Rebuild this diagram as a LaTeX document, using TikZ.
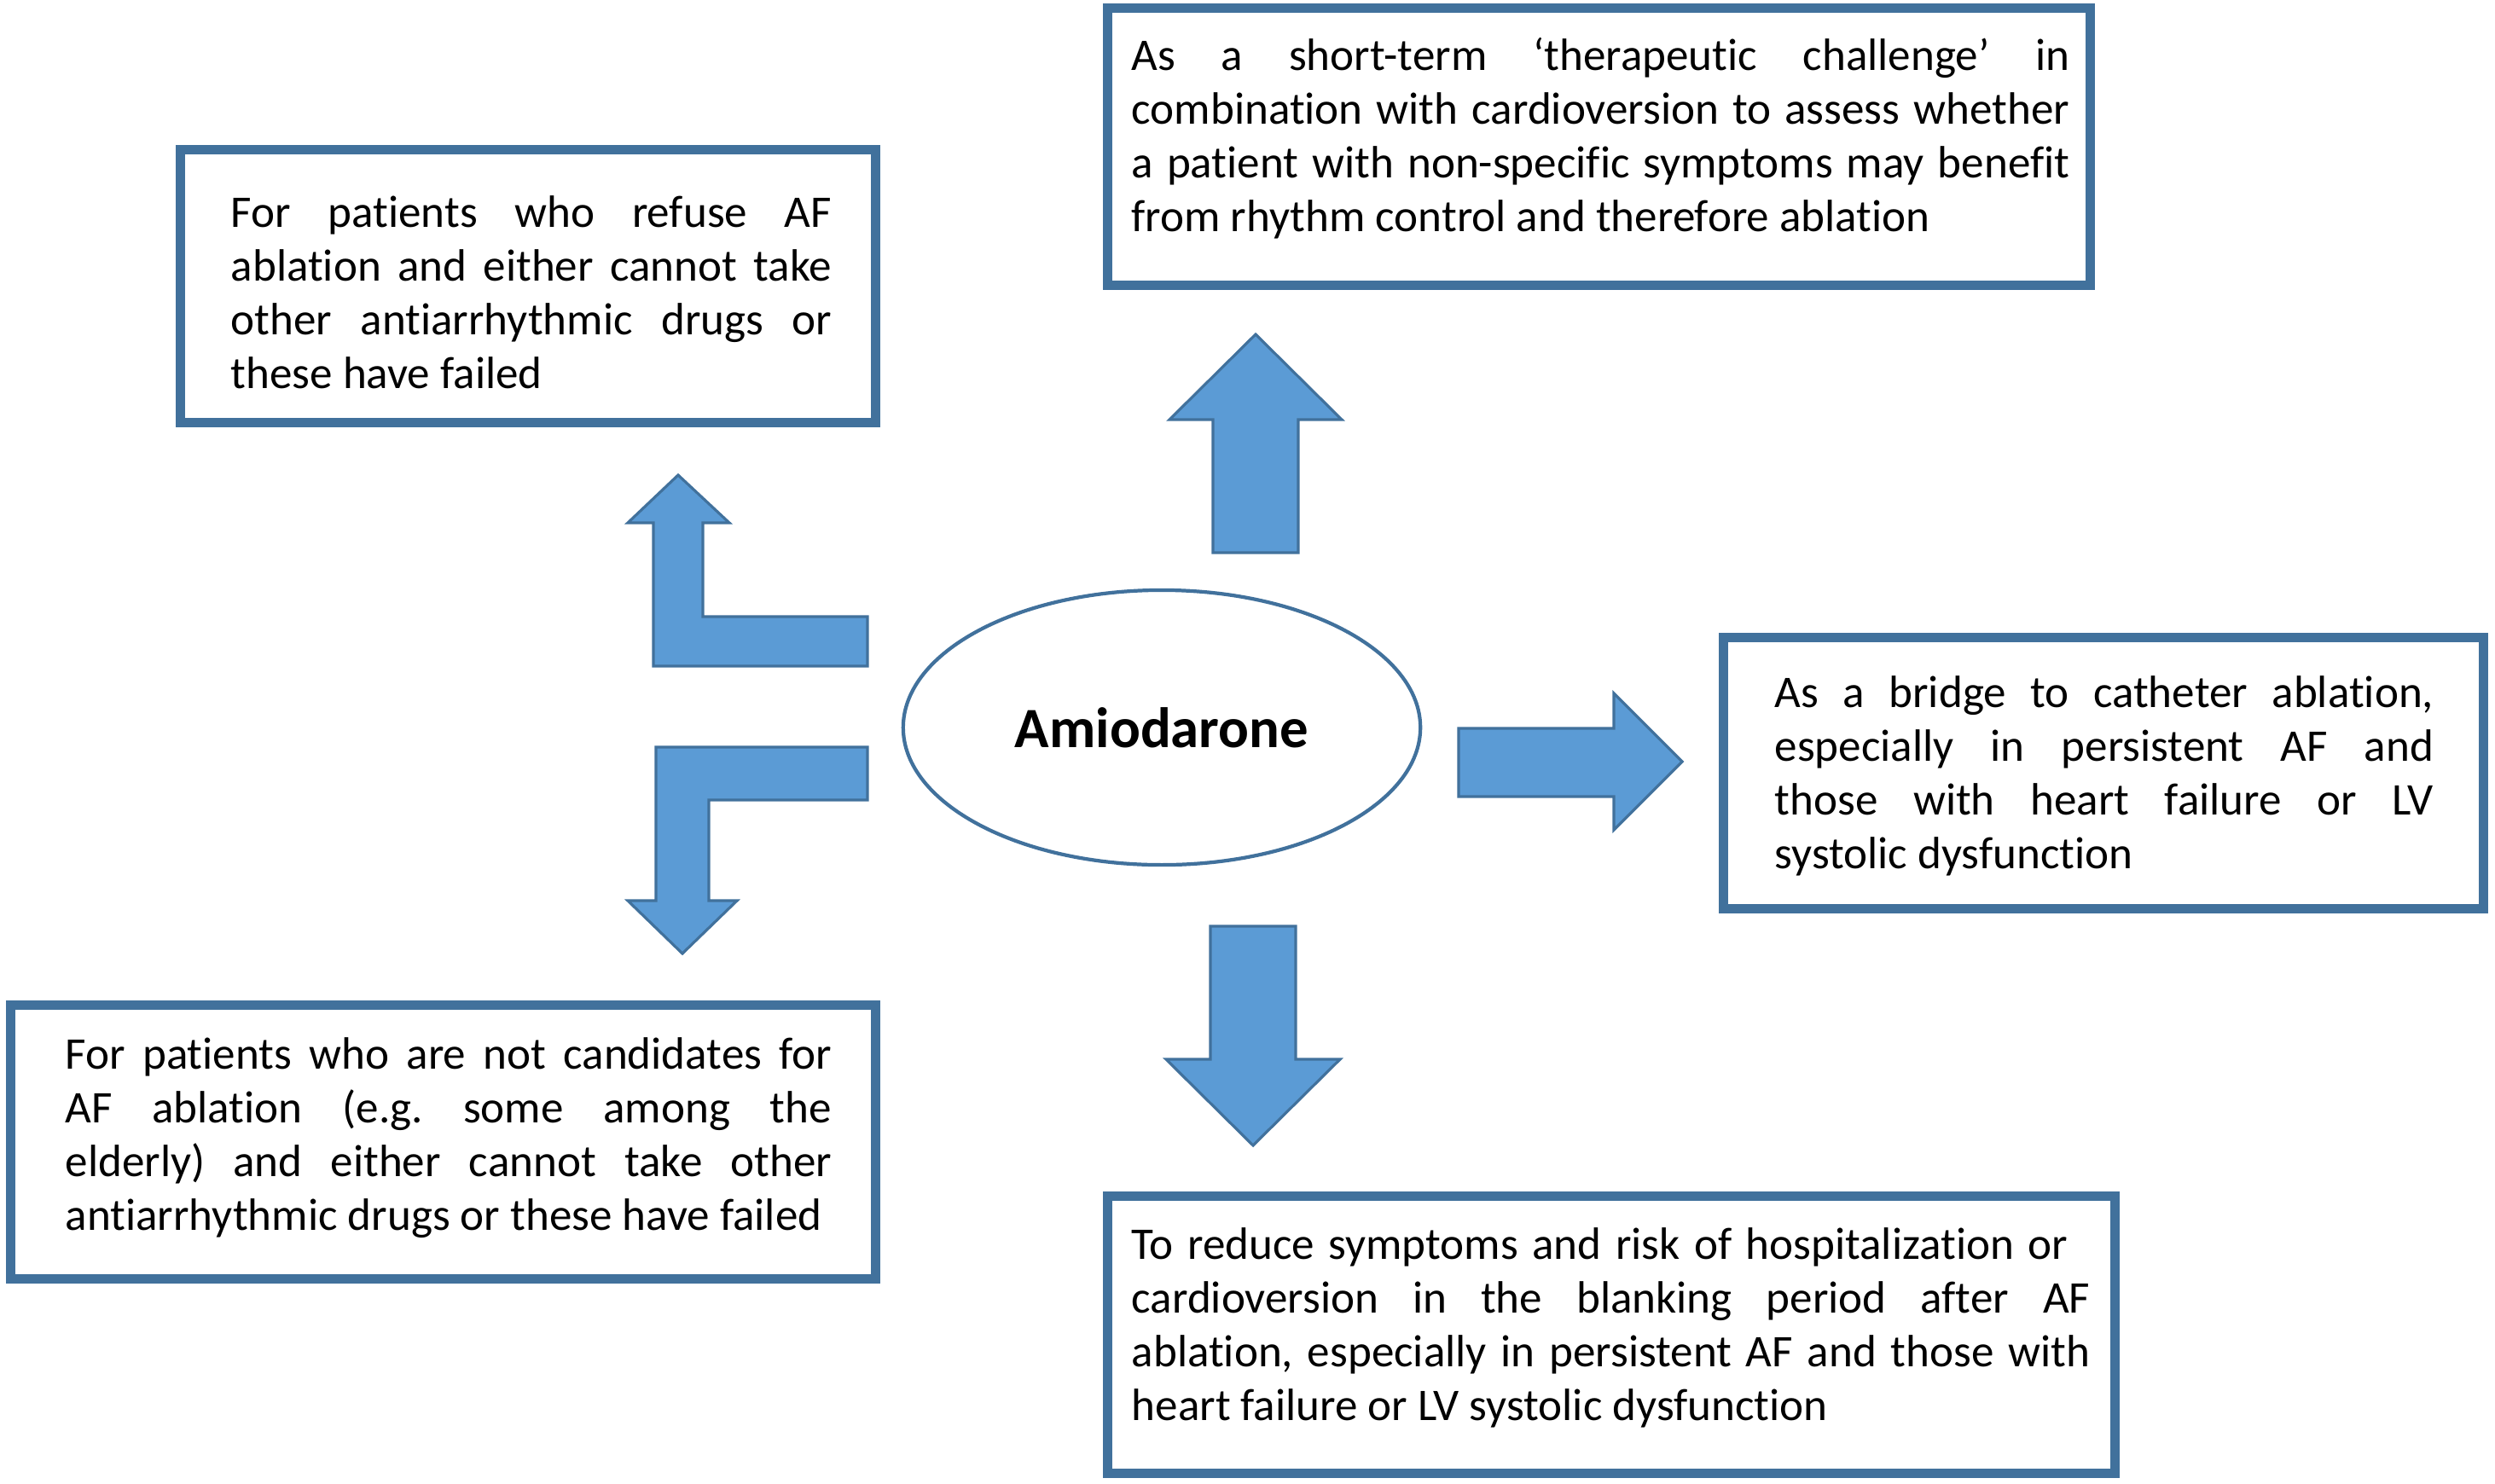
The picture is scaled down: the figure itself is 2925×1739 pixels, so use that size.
\documentclass[tikz,border=0pt]{standalone}
\usepackage{fontspec}
\setmainfont{Carlito}[Ligatures=NoCommon]
\usetikzlibrary{shapes.geometric}
\definecolor{afill}{HTML}{5B9BD5}
\definecolor{aline}{HTML}{41719C}
\definecolor{bline}{HTML}{41719C}
\newcommand{\jline}[2]{\makebox[#1][s]{#2}}
\frenchspacing
\begin{document}
\begin{tikzpicture}[x=0.01cm,y=-0.01cm,
  box/.style={draw=bline,line width=3.1pt,inner sep=0pt,fill=white},
  txt/.style={inner sep=0pt,align=left,anchor=west,font=\fontsize{15.1}{17.9}\selectfont},
  blockarrow/.style={fill=afill,draw=aline,line width=0.9pt,line join=miter}]
\useasboundingbox (0,0) rectangle (2925,1739);
\fill[white] (0,0) rectangle (2925,1739);

% boxes
\node[box,minimum width=8.14cm,minimum height=3.19cm] (tl) at (619,335.5) {};
\node[box,minimum width=11.51cm,minimum height=3.24cm] (tc) at (1874.5,172) {};
\node[box,minimum width=8.90cm,minimum height=3.17cm] (rt) at (2466,906.5) {};
\node[box,minimum width=10.13cm,minimum height=3.20cm] (bl) at (519.5,1339) {};
\node[box,minimum width=11.80cm,minimum height=3.24cm] (bc) at (1889,1565) {};

% centre ellipse
\node[ellipse,draw=bline,line width=1.2pt,minimum width=6.06cm,minimum height=3.22cm,inner sep=0pt] (amio) at (1362,853)
  {\fontsize{19}{23}\selectfont\bfseries Amiodarone};

% texts
\node[txt] (tltxt) at (270,343) {\jline{7.04cm}{For patients who refuse AF}\\
  \jline{7.04cm}{ablation and either cannot take}\\
  \jline{7.04cm}{other antiarrhythmic drugs or}\\
  these have failed};
\node[txt] (tctxt) at (1326,162) {\jline{10.99cm}{As a short-term ‘therapeutic challenge’ in}\\
  \jline{10.99cm}{combination with cardioversion to assess whether}\\
  \jline{10.99cm}{a patient with non-specific symptoms may benefit}\\
  from rhythm control and therefore ablation};
\node[txt] (rttxt) at (2080,910) {\jline{7.72cm}{As a bridge to catheter ablation,}\\
  \jline{7.72cm}{especially in persistent AF and}\\
  \jline{7.72cm}{those with heart failure or LV}\\
  systolic dysfunction};
\node[txt] (bltxt) at (76,1334) {\jline{8.98cm}{For patients who are not candidates for}\\
  \jline{8.98cm}{AF ablation (e.g. some among the}\\
  \jline{8.98cm}{elderly) and either cannot take other}\\
  antiarrhythmic drugs or these have failed};
\node[txt] (bctxt) at (1326,1557) {\jline{10.97cm}{To reduce symptoms and risk of hospitalization or}\\
  \jline{11.23cm}{cardioversion in the blanking period after AF}\\
  \jline{11.23cm}{ablation, especially in persistent AF and those with}\\
  heart failure or LV systolic dysfunction};

% block arrows
\draw[blockarrow] (795,557) -- (855,613) -- (824,613) -- (824,723) -- (1017,723) -- (1017,781)
  -- (766,781) -- (766,613) -- (736,613) -- cycle;
\draw[blockarrow] (1017,876) -- (769,876) -- (769,1056) -- (736,1056) -- (800,1118) -- (864,1056)
  -- (831,1056) -- (831,938) -- (1017,938) -- cycle;
\draw[blockarrow] (1472,392) -- (1573,492) -- (1522,492) -- (1522,648) -- (1422,648) -- (1422,492)
  -- (1371,492) -- cycle;
\draw[blockarrow] (1710,854) -- (1892,854) -- (1892,813) -- (1972,893) -- (1892,973) -- (1892,934)
  -- (1710,934) -- cycle;
\draw[blockarrow] (1419,1086) -- (1519,1086) -- (1519,1242) -- (1571,1242) -- (1469,1343)
  -- (1367,1242) -- (1419,1242) -- cycle;
\end{tikzpicture}
\end{document}
